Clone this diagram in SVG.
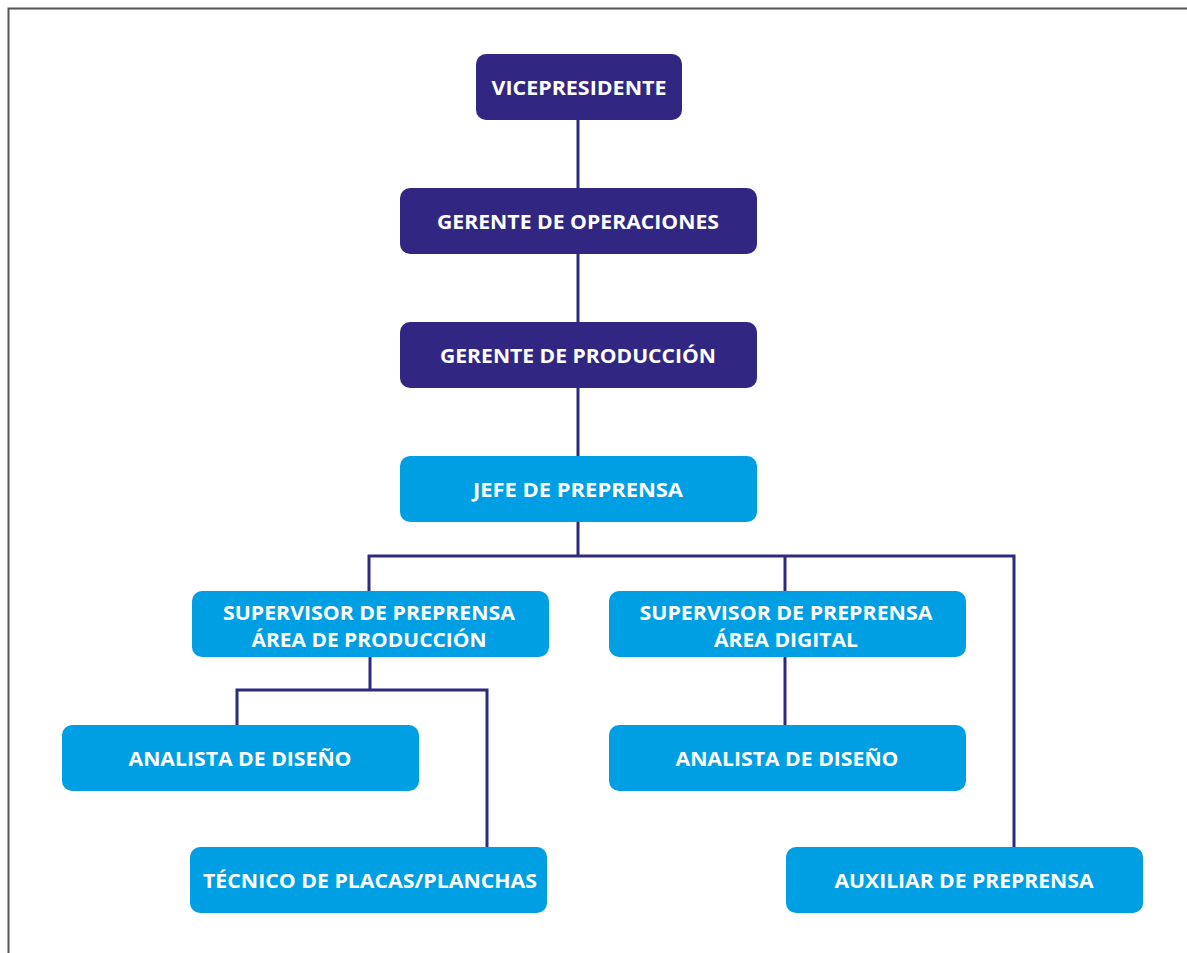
<svg xmlns="http://www.w3.org/2000/svg" width="1187" height="953" viewBox="0 0 1187 953">
<style>
.dark{fill:#312783}
.light{fill:#009FE3}
.t{font-family:"Open Sans","Liberation Sans",sans-serif;font-weight:bold;font-size:19px;fill:#ffffff;text-anchor:middle}
.c{fill:none;stroke:#2E2A7E;stroke-width:3}
</style>
<rect width="1187" height="953" fill="#ffffff"/>
<path d="M8.5,953 V8.5 H1187" fill="none" stroke="#555555" stroke-width="2"/>
<g id="connectors" class="c">
<path d="M578,120 V556"/>
<path d="M369,591 V556 H1014 V847"/>
<path d="M785,556 V591"/>
<path d="M370,657 V690"/>
<path d="M237,725 V690 H487 V847"/>
<path d="M785,657 V725"/>
</g>
<g id="vicepresidente"><rect class="dark" x="476" y="54" width="206" height="66" rx="10"/><text class="t" x="579" y="95" textLength="175" lengthAdjust="spacingAndGlyphs">VICEPRESIDENTE</text></g>
<g id="gerente-operaciones"><rect class="dark" x="400" y="188" width="357" height="66" rx="10"/><text class="t" x="578" y="229" textLength="282" lengthAdjust="spacingAndGlyphs">GERENTE DE OPERACIONES</text></g>
<g id="gerente-produccion"><rect class="dark" x="400" y="322" width="357" height="66" rx="10"/><text class="t" x="578" y="363" textLength="276" lengthAdjust="spacingAndGlyphs">GERENTE DE PRODUCCIÓN</text></g>
<g id="jefe-preprensa"><rect class="light" x="400" y="456" width="357" height="66" rx="10"/><text class="t" x="578" y="497" textLength="210" lengthAdjust="spacingAndGlyphs">JEFE DE PREPRENSA</text></g>
<g id="supervisor-produccion"><rect class="light" x="192" y="591" width="357" height="66" rx="10"/><text class="t" x="369" y="620" textLength="292" lengthAdjust="spacingAndGlyphs">SUPERVISOR DE PREPRENSA</text><text class="t" x="369" y="647" textLength="235" lengthAdjust="spacingAndGlyphs">ÁREA DE PRODUCCIÓN</text></g>
<g id="supervisor-digital"><rect class="light" x="609" y="591" width="357" height="66" rx="10"/><text class="t" x="786" y="620" textLength="293" lengthAdjust="spacingAndGlyphs">SUPERVISOR DE PREPRENSA</text><text class="t" x="786" y="647" textLength="144" lengthAdjust="spacingAndGlyphs">ÁREA DIGITAL</text></g>
<g id="analista-produccion"><rect class="light" x="62" y="725" width="357" height="66" rx="10"/><text class="t" x="240" y="766" textLength="223" lengthAdjust="spacingAndGlyphs">ANALISTA DE DISEÑO</text></g>
<g id="analista-digital"><rect class="light" x="609" y="725" width="357" height="66" rx="10"/><text class="t" x="787" y="766" textLength="223" lengthAdjust="spacingAndGlyphs">ANALISTA DE DISEÑO</text></g>
<g id="tecnico-placas"><rect class="light" x="190" y="847" width="357" height="66" rx="10"/><text class="t" x="370" y="888" textLength="334" lengthAdjust="spacingAndGlyphs">TÉCNICO DE PLACAS/PLANCHAS</text></g>
<g id="auxiliar-preprensa"><rect class="light" x="786" y="847" width="357" height="66" rx="10"/><text class="t" x="964" y="888" textLength="259" lengthAdjust="spacingAndGlyphs">AUXILIAR DE PREPRENSA</text></g>
</svg>
